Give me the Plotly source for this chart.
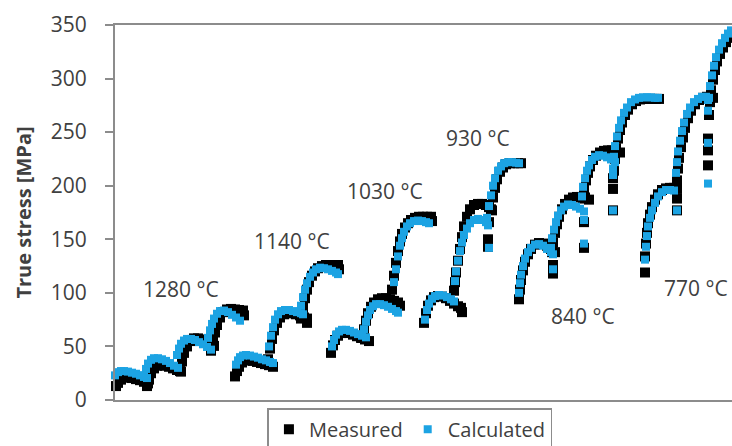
import plotly.graph_objects as go

# Multi-pass hot compression: true stress per pass, grouped by deformation temperature.
# x is the cumulative test progress (arbitrary units, no tick labels).

# ---- 1280 °C ----
t1280_meas_x = [-1, 1, 3, 6, 9, 13, 17, 21, 25, 29, 33,
                32, 34, 36, 39, 42, 46, 50, 54, 58, 62, 66,
                65, 67, 69, 72, 75, 79, 83, 87, 91, 95, 99,
                96, 98, 100, 102, 105, 108, 112, 116, 120, 124, 128, 129]
t1280_meas_y = [10, 13, 16, 19, 21, 21, 20.5, 19.5, 18.5, 17, 15.5,
                13, 19, 25, 29.5, 32, 32.5, 32, 31, 29.5, 28, 26.5,
                27, 36, 44, 50, 55, 57.5, 57.5, 56.5, 55, 53, 50.5,
                46, 55, 63, 70, 77, 82, 84.5, 85, 84.5, 84, 83.5, 79]
t1280_calc_x = [-2, 0, 3, 6, 9, 13, 17, 21, 25, 29, 32,
                29, 31, 33, 36, 39, 43, 47, 51, 55, 59, 63,
                62, 64, 66, 69, 72, 76, 80, 84, 88, 92, 96,
                93, 95, 97, 99, 102, 105, 109, 113, 117, 121, 125]
t1280_calc_y = [19, 23, 26, 27, 27, 26.5, 25.5, 24.5, 23, 21.5, 20.5,
                23, 29, 34, 37.5, 39, 39, 38, 36.5, 34.5, 32, 30,
                42, 48, 52.5, 55.5, 57, 57, 56, 54, 52, 49.5, 47,
                58, 65, 71, 76, 80.5, 83, 83.5, 82, 79.5, 77, 74]

# ---- 1140 °C ----
t1140_meas_x = [120, 122, 124, 127, 130, 134, 138, 142, 146, 150, 154, 158,
                153, 155, 157, 159, 162, 165, 169, 173, 177, 181, 185, 189, 192, 192,
                186, 188, 190, 192, 194, 197, 200, 203, 207, 211, 215, 219, 223, 224]
t1140_meas_y = [22, 27, 31, 35, 37, 37, 36.5, 35.5, 34.5, 33.5, 32.5, 31,
                38, 48, 57, 65, 72, 77, 80, 81, 81, 80, 79, 77, 76, 72,
                76, 86, 95, 103, 110, 116, 120, 123, 125, 126, 126, 126, 126, 122]
t1140_calc_x = [121, 123, 125, 128, 131, 135, 139, 143, 147, 151, 155, 158,
                154, 156, 158, 160, 163, 166, 170, 174, 178, 182, 186, 188,
                186, 188, 190, 192, 195, 198, 201, 205, 209, 213, 217, 221, 223]
t1140_calc_y = [33, 37, 40, 41.5, 42, 41.5, 40.5, 39.5, 38, 37, 35.5, 34.5,
                50, 60, 68, 75, 80, 83, 84, 84, 83, 82, 81, 80,
                88, 96, 103, 109, 115, 119, 122, 123.5, 123, 122, 120.5, 119, 117.5]

# ---- 1030 °C ----
t1030_meas_x = [216, 218, 220, 223, 226, 230, 234, 238, 242, 246, 250, 254,
                247, 249, 251, 253, 256, 259, 263, 267, 271, 275, 279, 283, 285,
                277, 279, 281, 283, 285, 287, 290, 293, 296, 300, 304, 308, 312, 316, 317]
t1030_meas_y = [44, 51, 56, 60, 62.5, 63, 62.5, 61, 59.5, 58, 56.5, 55,
                58, 66, 74, 81, 87, 91, 94, 95, 95, 94, 92.5, 91, 88,
                103, 116, 128, 139, 148, 155, 161, 165, 168, 170, 171, 171, 171, 171, 167]
t1030_calc_x = [217, 219, 221, 224, 227, 231, 235, 239, 243, 247, 251,
                249, 251, 253, 255, 258, 261, 265, 269, 273, 277, 281, 283,
                279, 281, 283, 285, 287, 289, 292, 295, 299, 303, 307, 311, 314]
t1030_calc_y = [50, 56, 61, 64, 65.5, 65.5, 64.5, 63, 61.5, 60, 58.5,
                66, 73, 79, 84, 87.5, 89.5, 89.5, 88.5, 87, 85, 83, 81.5,
                110, 122, 134, 144, 151, 157, 162, 165, 167, 167.5, 167, 166, 165]

# ---- 930 °C ----
t930_meas_x = [309, 311, 313, 316, 319, 323, 327, 331, 335, 339, 343, 346, 347,
               339, 340, 341, 343, 345, 347, 349, 352, 355, 359, 363, 367, 371, 374, 377, 373, 373,
               374, 376, 378, 380, 382, 385, 388, 391, 395, 399, 403, 406]
t930_meas_y = [72, 81, 88, 93, 96, 97, 96.5, 95, 92.5, 90, 87.5, 86, 82,
               102, 110, 119, 130, 141, 152, 162, 171, 178, 182, 183, 183, 182, 180, 177, 150, 143,
               166, 178, 189, 198, 206, 213, 217, 220, 221, 221, 221, 221]
t930_calc_x = [310, 312, 314, 317, 320, 324, 328, 332, 336, 339,
               340, 341, 343, 345, 347, 349, 352, 355, 359, 363, 367, 371, 373, 374,
               372, 374, 376, 378, 380, 383, 386, 389, 393, 397, 401, 404]
t930_calc_y = [75, 84, 90, 94.5, 97, 98, 97.5, 96, 94, 92,
               111, 120, 130, 139, 147, 154, 160, 165, 168, 169, 168, 166, 163, 142,
               170, 181, 191, 200, 207, 214, 218, 221, 222, 222, 221.5, 221]

# ---- 840 °C ----
t840_meas_x = [404, 405, 406, 408, 410, 413, 416, 420, 424, 428, 432, 436, 440, 438, 438,
               437, 438, 440, 442, 444, 447, 450, 454, 458, 462, 466, 470, 474, 469, 469,
               468, 469, 471, 473, 475, 478, 481, 485, 489, 493, 497, 501, 505, 498, 498, 498,
               499, 500, 501, 503, 505, 507, 510, 513, 517, 521, 525, 529, 533, 537, 541, 544]
t840_meas_y = [94, 103, 112, 121, 129, 136, 141, 145, 146.5, 146, 144, 141, 138, 126, 118,
               138, 147, 156, 164, 171, 178, 183, 187, 189, 189.5, 189.5, 189, 187, 166, 142,
               188, 197, 205, 212, 218, 224, 228, 231, 232.5, 233, 233, 232.5, 231, 207, 197, 177,
               214, 225, 235, 244, 252, 259, 266, 271, 276, 279, 280.5, 281, 281, 281, 281, 281]
t840_calc_x = [404, 405, 406, 408, 410, 413, 416, 420, 424, 428, 432, 436, 438, 438,
               436, 437, 439, 441, 443, 446, 449, 453, 457, 461, 465, 469, 469, 469,
               467, 468, 470, 472, 474, 477, 480, 484, 488, 492, 496, 500, 498, 498,
               498, 499, 500, 502, 504, 506, 509, 512, 516, 520, 524, 528, 532, 536, 540, 543]
t840_calc_y = [100, 109, 117, 125, 132, 138, 142, 145, 145.5, 144, 141, 138, 136, 122,
               142, 151, 159, 166, 172, 177, 180.5, 182.5, 182, 180.5, 178.5, 176, 168, 146,
               190, 199, 207, 214, 219, 224, 227, 228.5, 228, 226.5, 224.5, 222, 210, 177,
               216, 227, 237, 246, 254, 261, 268, 273, 278, 280.5, 282, 282.5, 282.5, 282.5, 282, 282]

# ---- 770 °C ----
t770_meas_x = [530, 530, 531, 532, 533, 535, 537, 540, 543, 547, 551, 555, 559, 562, 562, 562,
               562, 563, 564, 566, 568, 570, 573, 576, 580, 584, 588, 592, 596, 598, 593, 593, 593,
               594, 595, 596, 598, 600, 602, 605, 608, 611, 614, 617, 620]
t770_meas_y = [119, 134, 146, 156, 165, 173, 180, 187, 192, 196, 197.5, 198, 198, 197, 188, 177,
               205, 216, 226, 236, 245, 254, 263, 270, 276, 280, 282, 283, 283, 282, 244, 233, 219,
               266, 278, 289, 299, 308, 316, 323, 329, 334, 338, 341, 344]
t770_calc_x = [530, 531, 532, 533, 535, 537, 540, 543, 547, 551, 555, 559, 562,
               561, 562, 563, 565, 567, 569, 572, 575, 579, 583, 587, 591, 593, 593, 593,
               593, 594, 595, 597, 599, 601, 604, 607, 610, 613, 616, 619]
t770_calc_y = [131, 143, 153, 162, 170, 177, 184, 190, 194, 196, 196, 195.5, 177,
               212, 222, 232, 242, 251, 259, 267, 273, 278, 281, 283, 283, 280, 240, 202,
               270, 282, 293, 303, 312, 320, 327, 333, 338, 342, 345, 348]

# Temperature labels and where they sit (x, stress)
temp_labels = ["1280 °C", "1140 °C", "1030 °C", "930 °C", "840 °C", "770 °C"]
label_x = [66, 177, 270, 363, 468, 581]
label_y = [104, 148, 195, 245, 78, 105]

y_ticks = [0, 50, 100, 150, 200, 250, 300, 350]

meas_x = t1280_meas_x + t1140_meas_x + t1030_meas_x + t930_meas_x + t840_meas_x + t770_meas_x
meas_y = t1280_meas_y + t1140_meas_y + t1030_meas_y + t930_meas_y + t840_meas_y + t770_meas_y
calc_x = t1280_calc_x + t1140_calc_x + t1030_calc_x + t930_calc_x + t840_calc_x + t770_calc_x
calc_y = t1280_calc_y + t1140_calc_y + t1030_calc_y + t930_calc_y + t840_calc_y + t770_calc_y

FONT = "Open Sans"
TXT = "#404040"
AXIS = "#8c8c8c"
BLUE = "#1ca3e3"

fig = go.Figure()
fig.add_trace(go.Scatter(
    x=meas_x, y=meas_y, mode="markers", name="Measured",
    marker=dict(symbol="square", size=10, color="black", line=dict(width=0)),
    cliponaxis=False,
))
fig.add_trace(go.Scatter(
    x=calc_x, y=calc_y, mode="markers", name="Calculated",
    marker=dict(symbol="square", size=8, color=BLUE, line=dict(width=0)),
    cliponaxis=False,
))

for t, x, y in zip(temp_labels, label_x, label_y):
    fig.add_annotation(x=x, y=y, text=t, showarrow=False,
                       font=dict(family=FONT, size=21, color=TXT))

fig.update_layout(
    width=732, height=446,
    margin=dict(l=115, r=0, t=25, b=46, autoexpand=False),
    paper_bgcolor="white", plot_bgcolor="white",
    font=dict(family=FONT, size=21, color=TXT),
    showlegend=True,
    legend=dict(
        orientation="h", x=0.478, xanchor="center", y=-0.022, yanchor="top",
        bordercolor=AXIS, borderwidth=1.5, bgcolor="white",
        font=dict(family=FONT, size=20, color=TXT),
        itemwidth=30, tracegroupgap=0,
    ),
    xaxis=dict(
        range=[0, 617], showticklabels=False, ticks="", showgrid=False,
        zeroline=False, showline=True, linecolor=AXIS, linewidth=2, mirror=True,
    ),
    yaxis=dict(
        range=[0, 350], tickvals=y_ticks, ticks="outside", ticklen=8,
        tickwidth=1.5, tickcolor=AXIS, showgrid=False, zeroline=False,
        showline=True, linecolor=AXIS, linewidth=2, ticklabelstandoff=14,
        tickfont=dict(family=FONT, size=21, color=TXT),
        title=dict(text="<b>True stress [MPa]</b>", standoff=14,
                   font=dict(family=FONT, size=20, color=TXT)),
    ),
)

fig.write_html("out.html")
